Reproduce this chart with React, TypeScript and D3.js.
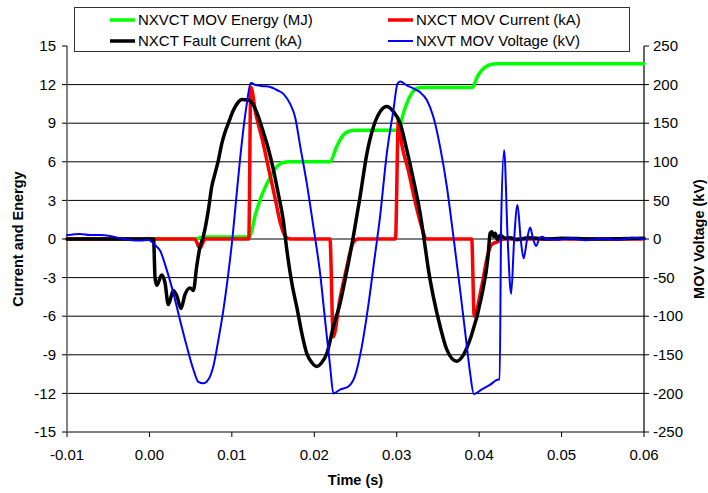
import React from 'react';
import * as d3 from 'd3';

// time in milliseconds, values in MJ / kA / kV
const timeTicks = [-0.01, 0, 0.01, 0.02, 0.03, 0.04, 0.05, 0.06];
const leftTicks = [-15, -12, -9, -6, -3, 0, 3, 6, 9, 12, 15];
const rightTicks = [-250, -200, -150, -100, -50, 0, 50, 100, 150, 200, 250];

const energyData: [number, number][] = [
  [-10, 0], [5.5, 0], [6.6, 0.15], [12.1, 0.15], [12.9, 2.0], [13.7, 3.5], [14.5, 4.6],
  [15.3, 5.5], [16.2, 5.95], [17.0, 6.0], [21.9, 6.0], [22.7, 7.16], [23.5, 8.07],
  [24.3, 8.4], [25.0, 8.45], [30.2, 8.45], [30.8, 9.75], [31.2, 10.5], [31.8, 11.3],
  [32.4, 11.7], [33.2, 11.78], [39.2, 11.78], [39.7, 12.5], [40.3, 13.1], [41.1, 13.5],
  [42.1, 13.63], [60, 13.63],
];

const movCurrentData: [number, number][] = [
  [-10, 0], [5.5, 0], [6.1, -0.7], [6.8, 0], [12.05, 0], [12.3, 11.8], [12.9, 9.75],
  [13.7, 7.7], [14.5, 5.35], [15.3, 3.0], [15.9, 1.2], [16.5, 0.2], [17.1, 0],
  [21.9, 0], [22.3, -7.6], [23.1, -4.7], [23.9, -2.3], [24.7, -0.3], [25.3, 0],
  [29.85, 0], [30.2, 9.2], [30.6, 7.4], [31.4, 5.35], [32.2, 3.0], [33.0, 1.0], [33.6, 0],
  [39.1, 0], [39.4, -6.0], [40.3, -3.7], [41.1, -1.1], [41.5, -0.45], [42.3, -0.2],
  [43.1, 0], [60, 0],
];

const faultCurrentData: [number, number][] = [
  [-10, 0], [0.5, 0], [0.68, -3.0], [0.89, -3.6], [1.49, -2.8], [1.89, -3.4], [2.29, -5.1],
  [2.9, -4.0], [3.31, -4.4], [3.83, -5.4], [4.32, -4.3], [4.93, -3.8], [5.33, -4.0],
  [5.74, -2.1], [6.14, -0.6], [6.54, 0.2], [7.15, 2.25], [7.56, 4.06], [7.96, 5.1],
  [8.36, 6.1], [8.77, 7.4], [9.17, 8.3], [9.58, 9.0], [10.18, 10.0], [10.79, 10.65],
  [11.2, 10.84], [12.0, 10.8], [12.61, 10.4], [13.22, 9.5], [13.82, 8.3], [14.43, 7.0],
  [15.04, 5.4], [15.64, 3.5], [16.25, 1.4], [16.66, -0.8], [17.27, -3.4], [17.88, -5.3],
  [18.48, -7.3], [19.09, -8.9], [19.7, -9.6], [20.3, -9.9], [20.91, -9.6], [21.52, -8.9],
  [22.32, -6.8], [23.13, -5.0], [23.94, -2.5], [24.74, 0.2], [25.56, 3.3], [26.37, 6.6],
  [27.17, 8.7], [27.99, 9.9], [28.8, 10.3], [29.6, 9.9], [30.41, 9.0], [31.23, 6.9],
  [32.03, 4.6], [32.84, 2.0], [33.45, -0.6], [33.85, -2.4], [34.45, -4.5], [35.27, -6.8],
  [36.08, -8.6], [37.27, -9.5], [38.09, -9.0], [39.06, -7.5], [40.28, -4.5], [41.09, -1.3],
  [41.33, 0.44], [41.54, 0.57], [41.74, 0.2], [41.94, 0.45], [42.22, -0.05], [42.55, 0.3],
  [43.16, 0.05], [43.76, 0.1], [44.5, -0.05], [46, 0.1], [48, 0.0], [50, 0.05], [55, 0.0],
  [60, 0.05],
];

const movVoltageData: [number, number][] = [
  [-10, 5], [-8.42, 6.5], [-7.21, 5.2], [-6.0, 5.2], [-4.78, 3.9], [-3.57, 0.9],
  [-2.35, -1.3], [-1.14, -2.0], [-0.13, -1.3], [0.28, -3.5], [0.68, -7.8], [1.29, -15],
  [2.1, -40], [2.9, -70], [3.71, -105], [4.53, -139], [5.33, -169], [5.93, -185],
  [6.54, -187], [7.15, -182], [7.75, -165], [8.36, -131], [8.97, -92], [9.58, -44],
  [10.06, 0], [10.59, 59], [11.2, 124], [11.81, 175], [12.29, 202], [13.02, 199],
  [13.82, 198], [14.64, 197], [15.45, 193], [16.25, 188], [17.07, 175], [17.67, 158],
  [18.28, 121], [19.09, 72], [19.89, 16], [20.7, -44], [21.31, -105], [21.92, -165],
  [22.32, -200], [23.13, -195], [24.14, -191], [24.92, -178], [25.72, -142], [26.53, -88],
  [27.25, -30], [27.99, 30], [28.8, 111], [29.6, 167], [30.09, 201], [30.41, 204],
  [31.23, 199], [32.03, 195], [32.84, 190], [33.65, 180], [34.45, 158], [35.27, 119],
  [36.08, 68], [36.88, 3], [37.69, -66], [38.51, -139], [38.91, -174], [39.36, -201],
  [40.28, -195], [41.3, -189], [42.34, -182], [42.49, -182], [42.67, 20], [43.03, 115],
  [43.46, 0], [43.88, -71], [44.25, 0], [44.65, 44], [45.04, 0], [45.4, -25], [45.82, 0],
  [46.18, 15], [46.55, 0], [46.92, -9], [47.28, 0], [47.61, 3], [48.2, 0], [49.5, -1],
  [51, 1], [53, -1.5], [55, 0.5], [57, -1], [58.5, 1.5], [60, 0],
];

const legendItems = [
  { label: 'NXVCT MOV Energy (MJ)', color: '#00FF00', width: 3.5, col: 0, row: 0 },
  { label: 'NXCT MOV Current (kA)', color: '#FF0000', width: 3.5, col: 1, row: 0 },
  { label: 'NXCT Fault Current (kA)', color: '#000000', width: 3.5, col: 0, row: 1 },
  { label: 'NXVT MOV Voltage (kV)', color: '#0000FF', width: 2, col: 1, row: 1 },
];

const W = 708;
const H = 493;
const M = { left: 67, right: 644, top: 46, bottom: 432 };
const FONT = 'Liberation Sans, Arial, sans-serif';

export default function App() {
  const x = d3.scaleLinear().domain([-0.01, 0.06]).range([M.left, M.right]);
  const yL = d3.scaleLinear().domain([-15, 15]).range([M.bottom, M.top]);
  const yR = d3.scaleLinear().domain([-250, 250]).range([M.bottom, M.top]);

  const mk = (ys: d3.ScaleLinear<number, number>) =>
    d3
      .line<[number, number]>()
      .x((d) => x(d[0] / 1000))
      .y((d) => ys(d[1]))
      .curve(d3.curveMonotoneX);

  const series = [
    { data: energyData, scale: yL, color: '#00FF00', width: 3.5 },
    { data: movCurrentData, scale: yL, color: '#FF0000', width: 3.5 },
    { data: faultCurrentData, scale: yL, color: '#000000', width: 3.5 },
    { data: movVoltageData, scale: yR, color: '#0000FF', width: 2 },
  ];

  return (
    <svg
      width={W}
      height={H}
      style={{ position: 'absolute', left: 0, top: 0, background: '#fff' }}
      fontFamily={FONT}
    >
      <rect x={0} y={0} width={W} height={H} fill="#fff" />
      {/* gridlines */}
      {leftTicks
        .filter((t) => t !== 15 && t !== -15)
        .map((t) => (
          <line key={'g' + t} x1={M.left} x2={M.right} y1={yL(t)} y2={yL(t)} stroke="#000" strokeWidth={1} />
        ))}
      {/* axes */}
      <line x1={M.left} x2={M.right} y1={M.bottom} y2={M.bottom} stroke="#000" strokeWidth={1.2} />
      <line x1={M.left} x2={M.left} y1={M.top} y2={M.bottom} stroke="#777" strokeWidth={1.8} />
      <line x1={M.right} x2={M.right} y1={M.top} y2={M.bottom} stroke="#000" strokeWidth={1.2} />
      {leftTicks.map((t) => (
        <g key={'l' + t}>
          <line x1={M.left - 5} x2={M.left} y1={yL(t)} y2={yL(t)} stroke="#000" />
          <text x={M.left - 11} y={yL(t)} dy="0.35em" textAnchor="end" fontSize={15} fill="#000">
            {t}
          </text>
        </g>
      ))}
      {rightTicks.map((t) => (
        <g key={'r' + t}>
          <line x1={M.right} x2={M.right + 5} y1={yR(t)} y2={yR(t)} stroke="#000" />
          <text x={M.right + 9} y={yR(t)} dy="0.35em" textAnchor="start" fontSize={15} fill="#000">
            {t}
          </text>
        </g>
      ))}
      {timeTicks.map((t) => (
        <g key={'b' + t}>
          <line x1={x(t)} x2={x(t)} y1={M.bottom} y2={M.bottom + 5} stroke="#000" />
          <text x={x(t)} y={M.bottom + 23} dy="0.35em" textAnchor="middle" fontSize={15} fill="#000">
            {t.toFixed(2)}
          </text>
        </g>
      ))}
      {/* axis titles */}
      <text
        transform={`translate(18,${(M.top + M.bottom) / 2}) rotate(-90)`}
        textAnchor="middle"
        dy="0.35em"
        fontSize={14.5}
        fontWeight="bold"
      >
        Current and Energy
      </text>
      <text
        transform={`translate(699,${(M.top + M.bottom) / 2}) rotate(-90)`}
        textAnchor="middle"
        dy="0.35em"
        fontSize={14.5}
        fontWeight="bold"
      >
        MOV Voltage (kV)
      </text>
      <text x={(M.left + M.right) / 2} y={480} dy="0.35em" textAnchor="middle" fontSize={14.5} fontWeight="bold">
        Time (s)
      </text>
      {/* series */}
      {series.map((s, i) => (
        <path
          key={'s' + i}
          d={mk(s.scale)(s.data) || ''}
          fill="none"
          stroke={s.color}
          strokeWidth={s.width}
          strokeLinejoin="round"
          strokeLinecap="round"
        />
      ))}
      {/* legend */}
      <rect x={74.5} y={7.5} width={555} height={44} fill="#fff" stroke="#333" strokeWidth={1} />
      {legendItems.map((it) => {
        const lx = it.col === 0 ? 110 : 388;
        const ly = it.row === 0 ? 20 : 41;
        return (
          <g key={it.label}>
            <line x1={lx} x2={lx + 25} y1={ly} y2={ly} stroke={it.color} strokeWidth={it.width} />
            <text x={lx + 28} y={ly} dy="0.35em" fontSize={15} fill="#000">
              {it.label}
            </text>
          </g>
        );
      })}
    </svg>
  );
}
